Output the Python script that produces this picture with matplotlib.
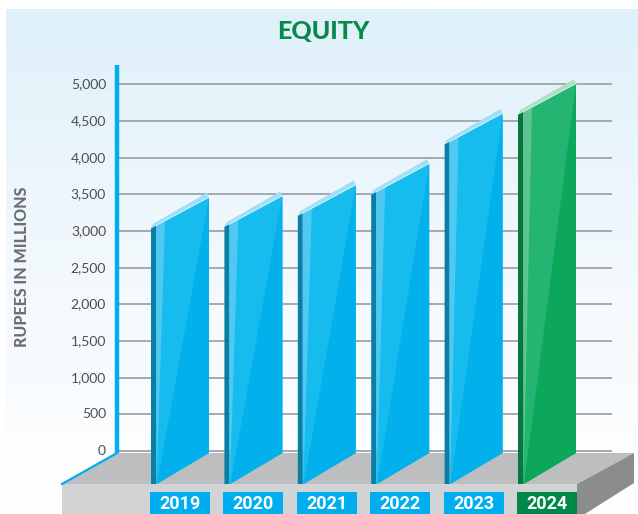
import numpy as np
import matplotlib
matplotlib.use('Agg')
import matplotlib.pyplot as plt
from matplotlib.patches import Polygon, Rectangle
from matplotlib.colors import LinearSegmentedColormap

# -------------------------------
# DATA
# -------------------------------
years = ['2019', '2020', '2021', '2022', '2023', '2024']
equity = [3460, 3480, 3630, 3920, 4605, 5010]
tick_values = [0, 500, 1000, 1500, 2000, 2500, 3000, 3500, 4000, 4500, 5000]
tick_labels = ['0', '500', '1,000', '1,500', '2,000', '2,500', '3,000',
               '3,500', '4,000', '4,500', '5,000']

# -------------------------------
# LAYOUT (pixels)
# -------------------------------
W, H = 638, 514
ppu = 0.07333      # pixels per million
step = 73.4        # pixels between categories
cx0 = 180          # pixel x of first category centre
zero_px = 451      # pixel y (from top) of the zero gridline

def px_x(p):
    return (p - cx0) / step

def px_y(p):
    return (zero_px - p) / ppu

blue = dict(face='#17bcef', dark='#02b0ec', light='#5fcdf3', side='#0b7ea6',
            top='#9fdff7', box='#00aeef')
green = dict(face='#24b573', dark='#0ca75b', light='#6dc796', side='#08773f',
             top='#b0dec0', box='#00874a')

fig = plt.figure(figsize=(W / 100, H / 100), dpi=100)
fig.patch.set_facecolor('white')
ax = fig.add_axes([0, 0, 1, 1])
ax.set_xlim(px_x(0), px_x(W))
ax.set_ylim(px_y(H), px_y(0))
ax.axis('off')

# background panel with soft gradient
cmap = LinearSegmentedColormap.from_list('bg', ['#dff0fa', '#ecf6fc', '#f7fbfe', '#ffffff'])
grad = np.linspace(0, 1, 256).reshape(-1, 1)
ax.imshow(grad, cmap=cmap, aspect='auto', transform=ax.transAxes,
          extent=[6 / W, 1, 0, 1 - 9 / H], zorder=0)

# gridlines + tick labels
axis_x = px_x(117)
for v, lab in zip(tick_values, tick_labels):
    ax.plot([axis_x, px_x(612)], [v, v], color='#a7a9ac', lw=1.4, zorder=1,
            solid_capstyle='butt')
    ax.text(px_x(106), v, lab, ha='right', va='center', fontsize=10,
            color='#4d4e50', family='Lato', fontweight='normal', zorder=6)

# floor slab
back_y = px_y(453)
front_y = px_y(484)
bottom_y = px_y(H + 5)
xf_l, xf_r, xb_r = px_x(62), px_x(577), px_x(634)
ax.add_patch(Polygon([(axis_x, back_y), (xb_r, back_y), (xf_r, front_y), (xf_l, front_y)],
                     closed=True, color='#bcbec0', lw=0, zorder=2))
ax.add_patch(Polygon([(xf_l, front_y), (xf_r, front_y), (xf_r, bottom_y), (xf_l, bottom_y)],
                     closed=True, color='#d1d3d4', lw=0, zorder=2))
ax.add_patch(Polygon([(xf_r, front_y), (xb_r, back_y), (xb_r, px_y(483)), (xf_r, bottom_y)],
                     closed=True, color='#8a8c8e', lw=0, zorder=2))

# axis line
ax.plot([axis_x, axis_x], [back_y, px_y(65)], color='#00aeef', lw=3.2, zorder=5,
        solid_capstyle='butt')
ax.plot([axis_x, xf_l], [back_y, front_y], color='#00aeef', lw=1.6, zorder=5)

# bars
depth = back_y - front_y
half = 29 / step
side_w = 5 / step
for i, (yr, v) in enumerate(zip(years, equity)):
    c = green if i == len(years) - 1 else blue
    xl, xr = i - half, i + half
    xs = xl + side_w

    def top_at(x):
        return v - depth * (xr - x) / (xr - xl)

    def base_at(x):
        return back_y - depth * (xr - x) / (xr - xl)

    # side strip
    ax.add_patch(Polygon([(xl, base_at(xl)), (xs, base_at(xl)), (xs, top_at(xs)),
                          (xl, top_at(xl))], closed=True, color=c['side'], lw=0, zorder=3))
    # front face
    ax.add_patch(Polygon([(xs, base_at(xl)), (xr, back_y), (xr, v), (xs, top_at(xs))],
                         closed=True, color=c['face'], lw=0, zorder=3))
    # darker right triangle
    ax.add_patch(Polygon([(xr, v), (xr, back_y), (xs + 1 / step, base_at(xl))],
                         closed=True, color=c['dark'], lw=0, zorder=3))
    # lighter left stripe
    ax.add_patch(Polygon([(xs, top_at(xs)), (xs + 9 / step, top_at(xs + 9 / step)),
                          (xs + 0.5 / step, base_at(xl))],
                         closed=True, color=c['light'], lw=0, zorder=3, alpha=0.8))
    # top face
    t = 4.5 / ppu
    ax.add_patch(Polygon([(xl, top_at(xl)), (xr, v), (xr - 2 / step, v + t),
                          (xl + 2 / step, top_at(xl) + t)],
                         closed=True, color=c['top'], lw=0, zorder=3))
    ax.plot([xs, xr], [top_at(xs), v], color='white', lw=0.6, alpha=0.7, zorder=4)

    # year box
    bw = 60 / step
    ax.add_patch(Rectangle((i - bw / 2, bottom_y), bw, px_y(492) - bottom_y,
                           color=c['box'], lw=0, zorder=5))
    ax.text(i, px_y(504), yr, ha='center', va='center', color='white', fontsize=13,
            fontweight='bold', family='Roboto', zorder=6)

# titles
fig.text(323 / W, 1 - 32 / H, 'EQUITY', ha='center', va='center', fontsize=18,
         fontweight='black', color='#068a4a', family='Lato')
fig.text(22 / W, 1 - 267 / H, 'RUPEES IN MILLIONS', rotation=90, ha='center',
         va='center', fontsize=11.5, fontweight='black', color='#6d6e71', family='Lato')

fig.savefig('out.png', dpi=100)
